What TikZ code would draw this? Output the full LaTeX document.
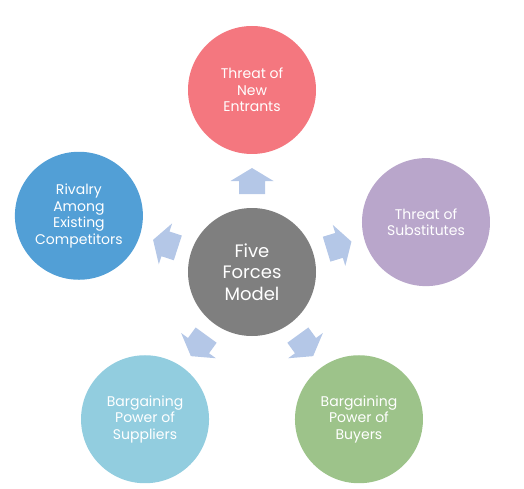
\documentclass[tikz,border=0pt]{standalone}
\usepackage{fontspec}
\setmainfont{Poppins}
\definecolor{cTop}{HTML}{F4777F}
\definecolor{cRight}{HTML}{B9A6CB}
\definecolor{cLeft}{HTML}{529FD6}
\definecolor{cBL}{HTML}{92CDDF}
\definecolor{cBR}{HTML}{9DC38A}
\definecolor{cMid}{HTML}{7F7F7F}
\definecolor{cArrow}{HTML}{B4C7E7}
\tikzset{
  force/.style={circle, minimum size=128pt, inner sep=0pt, text=white, align=center,
    font=\fontsize{14}{16.5}\selectfont},
  hub/.style={force, font=\fontsize{18}{21.5}\selectfont},
  blockarrow/.style={fill=cArrow}
}
\begin{document}
\begin{tikzpicture}[x=1pt,y=1pt]
\useasboundingbox (0,0) rectangle (524,488);
\coordinate (O) at (252,216);
\node[hub, fill=cMid] (mid) at (O) {Five\\Forces\\Model};
\node[force, fill=cTop] (top) at ([shift={(90:182)}]O) {Threat of\\New\\Entrants};
\node[force, fill=cRight] (right) at ([shift={(16:181)}]O) {Threat of\\Substitutes};
\node[force, fill=cLeft] (left) at ([shift={(162:182)}]O) {Rivalry\\Among\\Existing\\Competitors};
\node[force, fill=cBL] (bl) at ([shift={(-126:182)}]O) {Bargaining\\Power of\\Suppliers};
\node[force, fill=cBR] (br) at ([shift={(-54:182)}]O) {Bargaining\\Power of\\Buyers};
\foreach \a in {90,17,162,-54,-126}{
  \fill[blockarrow, shift={(252,216)}, rotate=\a]
    (78,-13) -- (91,-13) -- (91,-21.5) -- (104,0) -- (91,21.5) -- (91,13) -- (78,13) -- cycle;
}
\end{tikzpicture}
\end{document}
